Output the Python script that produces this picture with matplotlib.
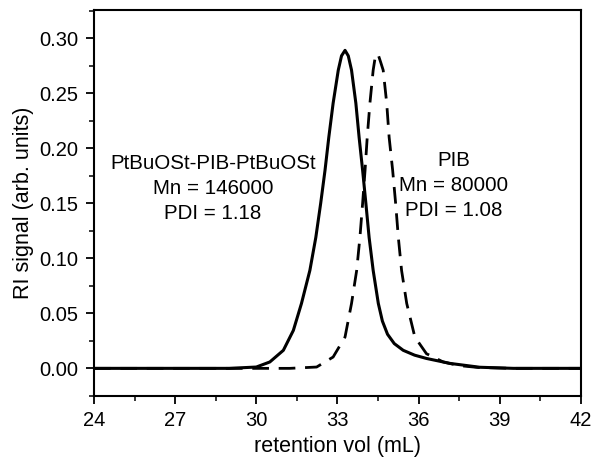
import numpy as np
import matplotlib
matplotlib.use("Agg")
import matplotlib.pyplot as plt
from matplotlib.ticker import MultipleLocator, FormatStrFormatter

plt.rcParams["font.family"] = ["Liberation Sans", "DejaVu Sans"]

# triblock copolymer trace (solid)
tri_x = [24, 27, 29, 30.0, 30.5, 31.0, 31.37, 31.67, 31.98, 32.2, 32.38, 32.54, 32.68, 32.84,
         33.03, 33.15, 33.28, 33.4, 33.52, 33.68, 33.8, 33.93, 34.05, 34.17, 34.32, 34.51,
         34.66, 34.85, 35.1, 35.43, 35.85, 36.29, 37.16, 38.26, 39.5, 42]
tri_y = [0.0, 0.0, 0.0, 0.0012, 0.0058, 0.0164, 0.0345, 0.059, 0.089, 0.119, 0.150, 0.180,
         0.210, 0.241, 0.271, 0.284, 0.289, 0.284, 0.271, 0.241, 0.210, 0.180, 0.150, 0.119,
         0.089, 0.059, 0.043, 0.031, 0.0225, 0.0164, 0.012, 0.009, 0.0045, 0.001, 0.0, 0.0]

# PIB precursor trace (dashed)
pib_x = [24, 28, 31.24, 32.23, 32.84, 33.28, 33.52, 33.71, 33.83, 33.93, 34.02, 34.1, 34.2,
         34.32, 34.39, 34.45, 34.52, 34.6, 34.69, 34.82, 34.91, 35.04, 35.15, 35.25, 35.37,
         35.56, 35.86, 36.29, 36.91, 37.5, 38.2, 39.5, 42]
pib_y = [0.0, 0.0, 0.0, 0.0012, 0.0103, 0.0285, 0.059, 0.089, 0.119, 0.150, 0.180, 0.210,
         0.241, 0.271, 0.282, 0.286, 0.284, 0.278, 0.271, 0.241, 0.210, 0.180, 0.150, 0.119,
         0.089, 0.059, 0.0285, 0.0133, 0.0058, 0.0025, 0.0008, 0.0, 0.0]

fig = plt.figure(figsize=(5.91, 4.63), dpi=100)
ax = fig.add_axes([0.159, 0.145, 0.824, 0.833])

ax.plot(tri_x, tri_y, "-", color="black", lw=2.2, solid_joinstyle="round")
ax.plot(pib_x, pib_y, color="black", lw=2.0, dashes=(6, 3.5))

ax.set_xlim(24, 42)
ax.set_ylim(-0.025, 0.3255)
ax.xaxis.set_major_locator(MultipleLocator(3))
ax.xaxis.set_minor_locator(MultipleLocator(1.5))
ax.yaxis.set_major_locator(MultipleLocator(0.05))
ax.yaxis.set_minor_locator(MultipleLocator(0.025))
ax.yaxis.set_major_formatter(FormatStrFormatter("%.2f"))
ax.tick_params(which="major", direction="out", length=6, width=1.3, labelsize=14.5,
               colors="black", pad=5)
ax.tick_params(which="minor", direction="out", length=3.5, width=1.1)
for s in ax.spines.values():
    s.set_linewidth(1.5)

ax.set_xlabel("retention vol (mL)", fontsize=15.5, labelpad=4)
ax.set_ylabel("RI signal (arb. units)", fontsize=15.5, labelpad=4)

ax.text(28.4, 0.1636, "PtBuOSt-PIB-PtBuOSt\nMn = 146000\nPDI = 1.18",
        ha="center", va="center", fontsize=14.8, linespacing=1.4)
ax.text(37.3, 0.166, "PIB\nMn = 80000\nPDI = 1.08",
        ha="center", va="center", fontsize=14.8, linespacing=1.4)

fig.savefig("out.png", dpi=100)
